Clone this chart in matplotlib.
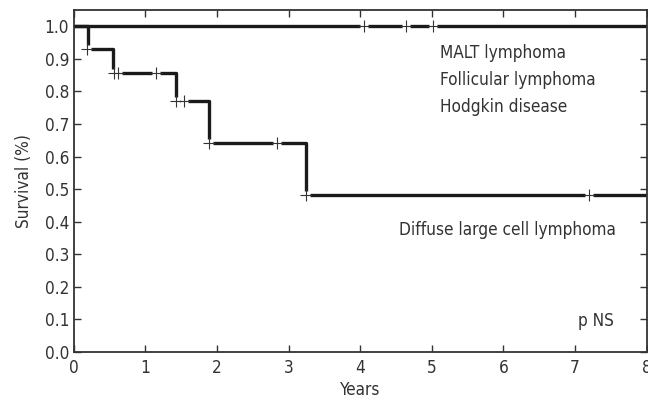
import matplotlib

matplotlib.use("Agg")

import matplotlib.pyplot as plt

# Diffuse large cell lymphoma: step times and survival after each step
dlcl_times = [0.0, 0.20, 0.55, 1.43, 1.89, 3.24, 8.0]
dlcl_surv = [1.0, 0.929, 0.857, 0.771, 0.643, 0.482, 0.482]
dlcl_cens_t = [0.19, 0.56, 0.62, 1.15, 1.43, 1.54, 1.89, 2.84, 3.24, 7.2]
dlcl_cens_s = [0.929, 0.857, 0.857, 0.857, 0.771, 0.771, 0.643, 0.643, 0.482, 0.482]

# MALT / follicular / Hodgkin: no events
other_times = [0.0, 8.0]
other_surv = [1.0, 1.0]
other_cens_t = [4.05, 4.64, 5.01]
other_cens_s = [1.0, 1.0, 1.0]

x_ticks = [0, 1, 2, 3, 4, 5, 6, 7, 8]
y_ticks = [0.0, 0.1, 0.2, 0.3, 0.4, 0.5, 0.6, 0.7, 0.8, 0.9, 1.0]

plt.rcParams["font.family"] = ["DejaVu Sans"]
plt.rcParams["font.stretch"] = "condensed"

fig = plt.figure(figsize=(6.48, 4.11), dpi=100)
ax = fig.add_axes([0.114, 0.1436, 0.884, 0.832])

line_kw = dict(color="#1a1a1a", linewidth=2.4, where="post", zorder=2)
ax.step(dlcl_times, dlcl_surv, **line_kw)
ax.step(other_times, other_surv, **line_kw)

for ts, ss in [(dlcl_cens_t, dlcl_cens_s), (other_cens_t, other_cens_s)]:
    ax.plot(ts, ss, linestyle="none", marker="s", markersize=6,
            markerfacecolor="white", markeredgecolor="none", zorder=3)
    ax.plot(ts, ss, linestyle="none", marker="+", markersize=9,
            markeredgewidth=0.8, color="#333333", zorder=4)

note_kw = dict(va="center", color="#333333", fontsize=12.3)
ax.text(5.12, 0.917, "MALT lymphoma", **note_kw)
ax.text(5.12, 0.835, "Follicular lymphoma", **note_kw)
ax.text(5.12, 0.753, "Hodgkin disease", **note_kw)
ax.text(4.54, 0.374, "Diffuse large cell lymphoma", **note_kw)
ax.text(7.04, 0.095, "p NS", **note_kw)

ax.set_xlim(0, 8)
ax.set_ylim(0, 1.05)
ax.set_xticks(x_ticks)
ax.set_yticks(y_ticks)
ax.set_yticklabels([f"{v:.1f}" for v in y_ticks])
ax.tick_params(direction="in", length=5, width=1, top=True, right=True,
               colors="#333333", labelcolor="#333333", labelsize=12.3)
ax.tick_params(axis="x", pad=5)
for spine in ax.spines.values():
    spine.set_linewidth(1.3)
    spine.set_color("#333333")

ax.set_xlabel("Years", color="#333333", fontsize=12.3, labelpad=3)
ax.set_ylabel("Survival (%)", color="#333333", fontsize=12.3, labelpad=8)

fig.savefig("out.png", dpi=100)
